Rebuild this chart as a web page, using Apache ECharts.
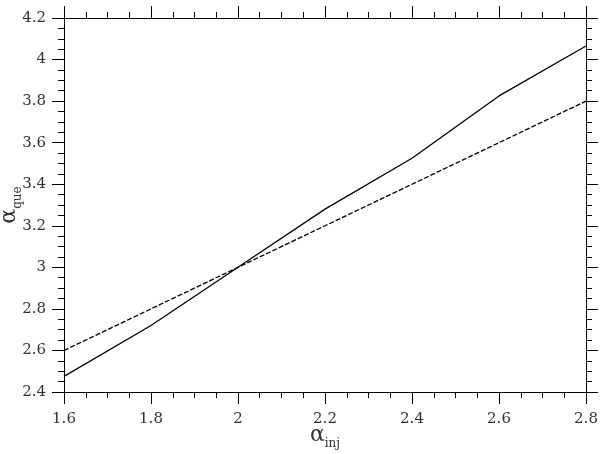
<!DOCTYPE html>
<html lang="en">
<head>
  <meta charset="UTF-8">
  <title>alpha que vs alpha inj</title>
  <style>
    html, body { margin: 0; padding: 0; background: #fff; }
  </style>
</head>
<body>
<div id="main" style="width: 600px;height:454px;"></div>
<script src="https://cdn.jsdelivr.net/npm/echarts@6/dist/echarts.min.js"></script>
<script type="text/javascript">
  const alphaInj = [1.6, 1.8, 2.0, 2.2, 2.4, 2.6, 2.8]
  const alphaQueSolid = [2.475, 2.72, 3.0, 3.28, 3.525, 3.825, 4.065]
  const alphaQueDashed = [2.6, 2.8, 3.0, 3.2, 3.4, 3.6, 3.8]

  const font = 'DejaVu Serif'
  const lineColor = '#000'

  const pairs = (ys) => alphaInj.map((x, i) => [x, ys[i]])

  const Chart = echarts.init(document.getElementById('main'));

  const frameAxis = (extra) => Object.assign({
    type: 'value',
    axisLine: { show: true, lineStyle: { color: lineColor, width: 1 } },
    axisTick: { show: true, inside: false, length: 12, lineStyle: { color: lineColor } },
    minorTick: { show: true, splitNumber: 4, length: 6, lineStyle: { color: lineColor } },
    splitLine: { show: false },
    minorSplitLine: { show: false }
  }, extra)

  const labelStyle = { color: '#333', fontFamily: font, fontSize: 15 }

  const nameRich = {
    a: { fontFamily: font, fontSize: 22, color: '#333', verticalAlign: 'bottom' },
    s: { fontFamily: font, fontSize: 12, color: '#333', verticalAlign: 'bottom', padding: [0, 0, -4, 0] }
  }

  const option = {
    animation: false,
    grid: { left: 64, right: 14, top: 18, bottom: 62, containLabel: false, outerBoundsMode: 'none' },
    xAxis: [
      frameAxis({
        position: 'bottom', min: 1.6, max: 2.8, interval: 0.2,
        axisLabel: Object.assign({ margin: 20, formatter: v => +v.toFixed(1) + '' }, labelStyle),
        name: '{a|α}{s|inj}', nameLocation: 'middle', nameGap: 32, nameMoveOverlap: false,
        nameTextStyle: { rich: nameRich }
      }),
      frameAxis({
        position: 'top', min: 1.6, max: 2.8, interval: 0.2,
        axisLabel: { show: false }
      })
    ],
    yAxis: [
      frameAxis({
        position: 'left', min: 2.4, max: 4.2, interval: 0.2,
        axisLabel: Object.assign({ margin: 18, formatter: v => +v.toFixed(1) + '' }, labelStyle),
        name: '{a|α}{s|que}', nameLocation: 'middle', nameGap: 44, nameRotate: 90, nameMoveOverlap: false,
        nameTextStyle: { rich: nameRich }
      }),
      frameAxis({
        position: 'right', min: 2.4, max: 4.2, interval: 0.2,
        axisLabel: { show: false }
      })
    ],
    series: [{
      name: 'solid',
      type: 'line',
      data: pairs(alphaQueSolid),
      showSymbol: false,
      lineStyle: { color: lineColor, width: 1.3, type: 'solid' }
    }, {
      name: 'dashed',
      type: 'line',
      data: pairs(alphaQueDashed),
      showSymbol: false,
      lineStyle: { color: lineColor, width: 1.3, type: [5, 2] }
    }]
  };

  Chart.setOption(option)
</script>
</body>
</html>
